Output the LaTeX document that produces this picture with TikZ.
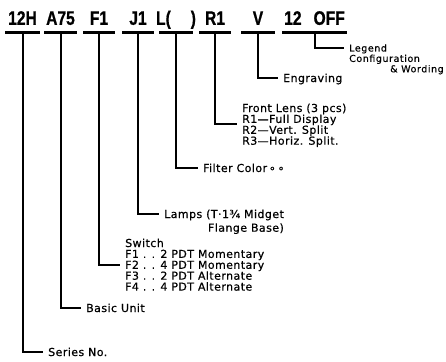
\documentclass[tikz,border=0pt]{standalone}
\usepackage{fontspec}
\setmainfont{DejaVu Sans}[LetterSpace=4,FakeBold=0.6]
\newfontfamily\codefont{Liberation Sans}[FakeStretch=0.8,FakeBold=0.8]
\newfontfamily\legendfont{DejaVu Sans}[LetterSpace=6,FakeBold=0.4]
\usetikzlibrary{positioning}

\begin{document}
\begin{tikzpicture}[
  x=1pt,y=-1pt,
  code/.style={font=\codefont\bfseries\fontsize{19.5}{20}\selectfont,
               inner sep=0pt,anchor=base},
  bar/.style={fill=black,inner sep=0pt,minimum height=3pt},
  lbl/.style={font=\fontsize{11}{12}\selectfont,inner xsep=5pt,inner ysep=0pt,
              text height=9.25pt,text depth=1.25pt},
  sml/.style={font=\legendfont\fontsize{9.5}{10}\selectfont,inner xsep=5pt,
              inner ysep=0pt,text height=8.5pt,text depth=1.5pt},
  lead/.style={line width=2pt}
]
\useasboundingbox (0,0) rectangle (446,361);

% ---- code bars ----
\node[bar,minimum width=35pt] (b12h) at (22.5,32.5)  {};
\node[bar,minimum width=33pt] (ba75) at (60.5,32.5)  {};
\node[bar,minimum width=32pt] (bf1)  at (99,32.5)    {};
\node[bar,minimum width=32pt] (bj1)  at (138,32.5)   {};
\node[bar,minimum width=34pt] (bl)   at (176,32.5)   {};
\node[bar,minimum width=32pt] (br1)  at (215,32.5)   {};
\node[bar,minimum width=34pt] (bv)   at (258,32.5)   {};
\node[bar,minimum width=65pt] (boff) at (314.5,32.5) {};

% ---- code letters ----
\node[code] (c12h) at ([yshift=6pt]b12h.north) {12H};
\node[code] (ca75) at ([yshift=6pt]ba75.north) {A75};
\node[code] (cf1)  at ([yshift=6pt]bf1.north)  {F1};
\node[code] (cj1)  at ([yshift=6pt]bj1.north)  {J1};
\node[code] (cl)   at ([yshift=6pt]bl.north)   {L(\hspace{20pt})};
\node[code] (cr1)  at ([yshift=6pt]br1.north)  {R1};
\node[code] (cv)   at ([yshift=6pt]bv.north)   {V};
\node[code] (coff) at ([yshift=6pt]boff.north) {12\hspace{12pt}OFF};

% ---- labels ----
\node[lbl,anchor=west] (series) at (43,352) {Series No.};
\node[lbl,anchor=west] (basic)  at (81,308) {Basic Unit};

\node[lbl,anchor=west] (switch) at (120,243) {Switch};
\node[lbl,below right=0pt of switch.south west] (swf1) {F1 . . 2 PDT Momentary};
\node[lbl,below right=0pt of swf1.south west]   (swf2) {F2 . . 4 PDT Momentary};
\node[lbl,below right=0pt of swf2.south west]   (swf3) {F3 . . 2 PDT Alternate};
\node[lbl,below right=0pt of swf3.south west]   (swf4) {F4 . . 4 PDT Alternate};

\node[lbl,anchor=west] (lamps) at (159,214) {Lamps (T·1¾ Midget};
\node[lbl,below left=2.8pt and 0pt of lamps.south east] (flange) {Flange Base)};

\node[lbl,anchor=west] (filter) at (198,168) {Filter Color\,∘\,∘};

\node[lbl,anchor=west] (lens) at (237,108) {Front Lens (3 pcs)};
\node[lbl,below right=0pt of lens.south west]   (lensr1) {R1—Full Display};
\node[lbl,below right=0pt of lensr1.south west] (lensr2) {R2—Vert. Split};
\node[lbl,below right=0pt of lensr2.south west] (lensr3) {R3—Horiz. Split.};

\node[lbl,anchor=west] (engrave) at (278,78) {Engraving};

\node[sml,anchor=west] (legend) at (344,48) {Legend};
\node[sml,below right=0pt of legend.south west] (config) {Configuration};
\node[sml,below right=0pt and 41pt of config.south west] (wording) {\& Wording};

% ---- leaders ----
\draw[lead] (b12h.south) |- (series.west);
\draw[lead] (ba75.south) |- (basic.west);
\draw[lead] (bf1.south)  |- (swf2.west);
\draw[lead] (bj1.south)  |- (lamps.west);
\draw[lead] (bl.south)   |- (filter.west);
\draw[lead] (br1.south)  |- (lensr1.south west);
\draw[lead] (bv.south)   |- (engrave.west);
\draw[lead] (boff.south) |- (legend.west);

\end{tikzpicture}
\end{document}
